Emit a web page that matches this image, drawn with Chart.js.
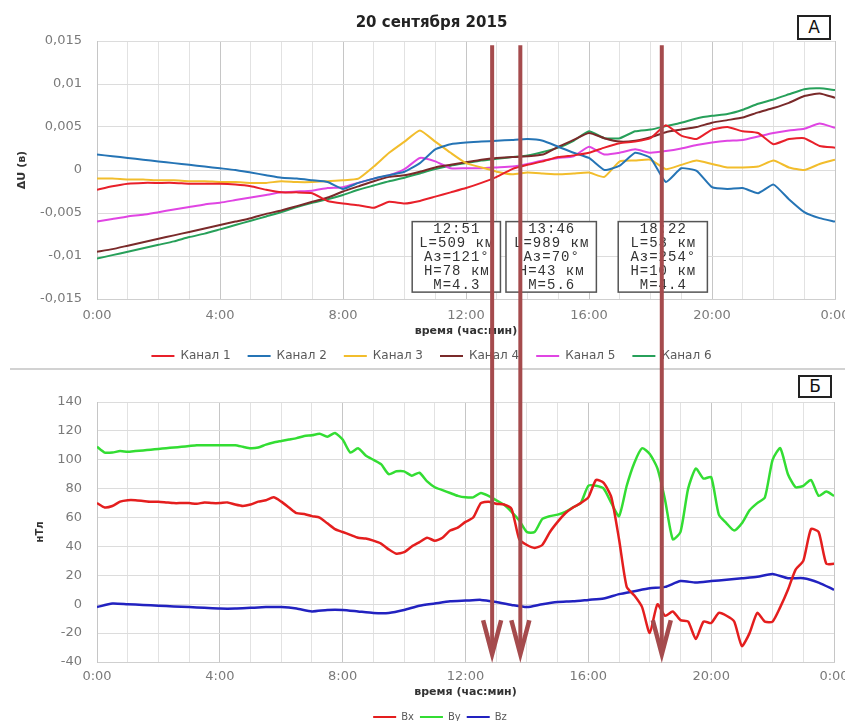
<!DOCTYPE html>
<html lang="ru">
<head>
<meta charset="utf-8">
<title>20 сентября 2015</title>
<script src="https://cdn.jsdelivr.net/npm/chart.js@4.4.1/dist/chart.umd.min.js"></script>
<style>
  html, body { margin: 0; padding: 0; background: #fff; overflow: hidden; }
  #page { position: relative; width: 845px; height: 721px; overflow: hidden; }
  #page canvas { position: absolute; left: 0; }
  #topChart { top: 0; }
  #bottomChart { top: 370px; }
  #arrows { top: 0; pointer-events: none; }
  .sep { position: absolute; left: 10px; top: 368px; width: 835px; height: 2px; background: #d2d2d2; }
  .tag { position: absolute; width: 30px; border: 2px solid #222; background: #fff;
         font: 17px "DejaVu Sans", sans-serif; color: #111; text-align: center; }
</style>
</head>
<body>
<div id="page">
  <canvas id="topChart" width="845" height="372"></canvas>
  <div class="sep"></div>
  <canvas id="bottomChart" width="845" height="362"></canvas>
  <canvas id="arrows" width="845" height="721"></canvas>
  <div class="tag" style="left:797px; top:15px; height:21px; line-height:21px;">А</div>
  <div class="tag" style="left:798px; top:375px; height:19px; line-height:19px;">Б</div>
</div>
<script>
// ---- time grids (hours) ----
const hoursTop = [0,0.5,1,1.5,2,2.5,3,3.5,4,4.5,5,5.5,6,6.5,7,7.5,8,8.5,9,9.5,10,10.5,11,11.5,12,
  12.5,13,13.5,14,14.5,15,15.5,16,16.5,17,17.5,18,18.5,19,19.5,20,20.5,21,21.5,22,22.5,23,23.5,24];
const hoursBottom = [0,0.25,0.5,0.75,1,1.25,1.5,1.75,2,2.25,2.5,2.75,3,3.25,3.5,3.75,4,4.25,4.5,4.75,
  5,5.25,5.5,5.75,6,6.25,6.5,6.75,7,7.25,7.5,7.75,8,8.25,8.5,8.75,9,9.25,9.5,9.75,
  10,10.25,10.5,10.75,11,11.25,11.5,11.75,12,12.25,12.5,12.75,13,13.25,13.5,13.75,14,14.25,14.5,14.75,
  15,15.25,15.5,15.75,16,16.25,16.5,16.75,17,17.25,17.5,17.75,18,18.25,18.5,18.75,19,19.25,19.5,19.75,
  20,20.25,20.5,20.75,21,21.25,21.5,21.75,22,22.25,22.5,22.75,23,23.25,23.5,23.75,24];

// ---- panel A: ΔU per channel, V ----
const channelNames = ['Канал 1', 'Канал 2', 'Канал 3', 'Канал 4', 'Канал 5', 'Канал 6'];
const channel1 = [-0.0023,-0.0019,-0.0016,-0.0015,-0.0015,-0.0015,-0.0016,-0.0016,-0.0016,-0.0017,
  -0.0019,-0.0023,-0.0026,-0.0026,-0.0027,-0.0036,-0.0039,-0.0041,-0.0044,-0.0037,
  -0.0039,-0.0036,-0.0031,-0.0026,-0.0021,-0.0015,-0.0008,0.0001,0.0006,0.0010,
  0.0015,0.0017,0.0020,0.0026,0.0031,0.0033,0.0037,0.0052,0.0040,0.0036,
  0.0047,0.0050,0.0045,0.0043,0.0030,0.0036,0.0037,0.0028,0.0026];
const channel2 = [0.0018,0.0016,0.0014,0.0012,0.0010,0.0008,0.0006,0.0004,0.0002,0.0000,
  -0.0003,-0.0006,-0.0009,-0.0010,-0.0012,-0.0014,-0.0022,-0.0015,-0.0010,-0.0006,
  -0.0002,0.0008,0.0024,0.0030,0.0032,0.0033,0.0034,0.0035,0.0036,0.0034,
  0.0027,0.0020,0.0014,0.0000,0.0005,0.0020,0.0014,-0.0014,0.0002,-0.0001,
  -0.0020,-0.0022,-0.0021,-0.0027,-0.0017,-0.0034,-0.0049,-0.0056,-0.0060];
const channel3 = [-0.0010,-0.0010,-0.0011,-0.0011,-0.0012,-0.0012,-0.0013,-0.0013,-0.0014,-0.0014,
  -0.0015,-0.0015,-0.0013,-0.0014,-0.0014,-0.0013,-0.0012,-0.0010,0.0004,0.0020,
  0.0033,0.0046,0.0033,0.0020,0.0008,0.0003,-0.0002,-0.0005,-0.0003,-0.0004,
  -0.0005,-0.0004,-0.0003,-0.0008,0.0010,0.0011,0.0012,0.0001,0.0006,0.0011,
  0.0007,0.0003,0.0003,0.0004,0.0011,0.0003,0.0000,0.0007,0.0012];
const channel4 = [-0.0095,-0.0092,-0.0088,-0.0084,-0.0080,-0.0076,-0.0072,-0.0068,-0.0064,-0.0060,
  -0.0056,-0.0051,-0.0047,-0.0042,-0.0037,-0.0032,-0.0025,-0.0019,-0.0013,-0.0008,
  -0.0006,-0.0002,0.0003,0.0006,0.0009,0.0012,0.0014,0.0015,0.0016,0.0018,
  0.0027,0.0035,0.0043,0.0037,0.0033,0.0034,0.0038,0.0044,0.0047,0.0050,
  0.0055,0.0058,0.0061,0.0067,0.0072,0.0078,0.0086,0.0089,0.0084];
const channel5 = [-0.0060,-0.0057,-0.0054,-0.0052,-0.0049,-0.0046,-0.0043,-0.0040,-0.0038,-0.0035,
  -0.0032,-0.0029,-0.0026,-0.0025,-0.0024,-0.0021,-0.0020,-0.0015,-0.0010,-0.0006,
  0.0001,0.0014,0.0010,0.0002,0.0002,0.0002,0.0003,0.0004,0.0007,0.0011,
  0.0014,0.0016,0.0027,0.0018,0.0020,0.0024,0.0020,0.0022,0.0025,0.0029,
  0.0032,0.0034,0.0035,0.0039,0.0043,0.0046,0.0048,0.0054,0.0049];
const channel6 = [-0.0103,-0.0099,-0.0095,-0.0091,-0.0087,-0.0083,-0.0078,-0.0074,-0.0069,-0.0064,
  -0.0059,-0.0054,-0.0049,-0.0043,-0.0038,-0.0034,-0.0029,-0.0023,-0.0018,-0.0013,
  -0.0009,-0.0004,0.0001,0.0005,0.0008,0.0011,0.0013,0.0015,0.0017,0.0021,
  0.0026,0.0034,0.0045,0.0037,0.0037,0.0045,0.0047,0.0051,0.0055,0.0060,
  0.0063,0.0065,0.0070,0.0077,0.0082,0.0088,0.0094,0.0095,0.0093];
const channelColors = ['#e8202a', '#2574b5', '#f2bd2c', '#7a2a2a', '#e045e3', '#27a05a'];

// ---- panel Б: magnetic field components, nT ----
const fieldNames = ['Bx', 'By', 'Bz'];
const bx = [70,67,68,71,72,72,71.5,71,71,70.5,70,70,70,69.5,70.5,70,70,70.5,69,68,
  69,71,72,74,71,67,63,62.5,61,60,56,52,50,48,46,45.5,44,42,38,35,
  36,40,43,46,44,46,51,53,57,60,70,71,69.5,69,66,45,41,39,41,50,
  57,63,67,70,74,86,84,74,45,12,6,-2,-20,0,-8,-5,-11,-12,-24,-12,
  -13,-6,-8,-12,-29,-20,-6,-12,-12,-2,10,24,30,52,50,28,28];
const by = [109,105,105,106,105.5,106,106.5,107,107.5,108,108.5,109,109.5,110,110,110,110,110,110,109,
  108,108.5,110.5,112,113,114,115,116.5,117,118,116,118.5,114,105,108,103,100,97,90,92,
  92,89,91,85,81,79,77,75,74,74,77,75,72,69,64,58,50,50,59,61,
  62,64,67,70,82,82,80,70,61,82,98,108,104,94,72,45,50,80,94,87,
  88,62,56,51,56,65,70,74,100,108,90,81,82,86,75,78,75];
const bz = [-2,0.5,0,-0.5,-1,-1.5,-2,-2.5,-3,-3,-2.5,-2,-2,-3,-5,-4,-4,-5,-6,-6,
  -4,-1,0.5,2,2.5,3,1.5,-0.5,-2,0,1.5,2,3,4,7,9,11,12,16,15,
  16,17,18,19,21,18,18,15,10];
const fieldColors = ['#e41e1e', '#33dd33', '#2222c0'];

// ---- events ----
const eventHours = [12.85, 13.767, 18.367];
const eventNotes = [
  ['12:51', 'L=509 км', 'Аз=121°', 'H=78 км', 'M=4.3'],
  ['13:46', 'L=989 км', 'Аз=70°', 'H=43 км', 'M=5.6'],
  ['18:22', 'L=53 км', 'Аз=254°', 'H=10 км', 'M=4.4']
];

Chart.defaults.font.family = '"DejaVu Sans", sans-serif';

const pts = (xs, ys) => ys.map((v, i) => ({ x: xs[i], y: v }));

// legend shows a thin line instead of a box
const lineLegend = chart => Chart.defaults.plugins.legend.labels.generateLabels(chart)
  .map(l => Object.assign(l, { lineWidth: 0 }));

const hourTick = v => (v % 4 === 0 ? (v % 24) + ':00' : '');
const hourGrid = c => (c.tick && c.tick.value % 4 === 0 ? '#c6c6c6' : '#e2e2e2');

// fixed axis band; the edge labels may run past the plot, no extra margins for them
const fixHeight = h => s => { s.height = h; s.paddingLeft = 0; s.paddingRight = 0; };

// framed event descriptions below the traces of panel A
const boxSpans = [[10.25, 13.12], [13.30, 16.24], [16.95, 19.85]];
const eventBoxes = {
  id: 'eventBoxes',
  afterDatasetsDraw(chart) {
    const { ctx, scales: { x, y } } = chart;
    ctx.save();
    eventNotes.forEach((lines, i) => {
      const left = x.getPixelForValue(boxSpans[i][0]);
      const right = x.getPixelForValue(boxSpans[i][1]);
      const top = y.getPixelForValue(-0.006);
      const bottom = y.getPixelForValue(-0.0142);
      ctx.fillStyle = '#fff';
      ctx.fillRect(left, top, right - left, bottom - top);
      ctx.strokeStyle = '#555';
      ctx.lineWidth = 1.5;
      ctx.strokeRect(left, top, right - left, bottom - top);
      ctx.fillStyle = '#333';
      ctx.font = '14px "Liberation Mono", monospace';
      ctx.letterSpacing = '1px';
      ctx.textAlign = 'center';
      ctx.textBaseline = 'middle';
      lines.forEach((t, k) => ctx.fillText(t, (left + right) / 2 + 0.5, top + 8 + k * 14));
    });
    ctx.restore();
  }
};

const topChart = new Chart(document.getElementById('topChart'), {
  type: 'line',
  data: {
    datasets: [channel1, channel2, channel3, channel4, channel5, channel6].map((s, i) => ({
      label: channelNames[i],
      data: pts(hoursTop, s),
      borderColor: channelColors[i],
      backgroundColor: channelColors[i],
      borderWidth: 2
    }))
  },
  options: {
    responsive: false,
    animation: false,
    layout: { padding: { left: 28, right: 10, top: 0, bottom: 0 }, autoPadding: false },
    elements: { point: { radius: 0 }, line: { tension: 0.15 } },
    plugins: {
      title: {
        display: true, text: '20 сентября 2015', color: '#222',
        font: { size: 15, weight: 'bold' }, padding: { top: 14, bottom: 9 }
      },
      legend: {
        position: 'bottom',
        labels: { boxWidth: 23, boxHeight: 2, padding: 17, color: '#595959', font: { size: 12 }, generateLabels: lineLegend }
      },
      tooltip: { enabled: false }
    },
    scales: {
      x: {
        type: 'linear', min: 0, max: 24,
        ticks: { stepSize: 1, autoSkip: false, maxRotation: 0, padding: 9, color: '#7a7a7a', font: { size: 13 }, callback: hourTick },
        grid: { color: hourGrid, drawTicks: false },
        border: { color: '#cfcfcf' },
        title: { display: true, text: 'время (час:мин)', color: '#333', font: { size: 11, weight: 'bold' }, padding: { top: 0, bottom: -4.6 } },
        afterFit: fixHeight(34)
      },
      y: {
        min: -0.015, max: 0.015,
        ticks: {
          stepSize: 0.005, padding: 15, color: '#7a7a7a', font: { size: 13 },
          callback: v => String(Math.round(v * 1000) / 1000).replace('.', ',')
        },
        grid: { color: '#dcdcdc', drawTicks: false },
        border: { color: '#c6c6c6' },
        title: { display: true, text: 'ΔU (в)', color: '#333', font: { size: 11, weight: 'bold' }, padding: { top: -12.6, bottom: 0 } },
        afterFit: s => { s.width = 97 - 28; }
      }
    }
  },
  plugins: [eventBoxes]
});

const bottomChart = new Chart(document.getElementById('bottomChart'), {
  type: 'line',
  data: {
    datasets: [
      { label: fieldNames[0], data: pts(hoursBottom, bx) },
      { label: fieldNames[1], data: pts(hoursBottom, by) },
      { label: fieldNames[2], data: pts(hoursTop, bz) }
    ].map((d, i) => Object.assign(d, { borderColor: fieldColors[i], backgroundColor: fieldColors[i], borderWidth: 2.5 }))
  },
  options: {
    responsive: false,
    animation: false,
    layout: { padding: { left: 46, right: 11, top: 32, bottom: 0 }, autoPadding: false },
    elements: { point: { radius: 0 }, line: { tension: 0.2 } },
    plugins: {
      legend: {
        position: 'bottom',
        labels: { boxWidth: 23, boxHeight: 2, padding: 6, color: '#595959', font: { size: 10 }, generateLabels: lineLegend }
      },
      tooltip: { enabled: false }
    },
    scales: {
      x: {
        type: 'linear', min: 0, max: 24,
        ticks: { stepSize: 1, autoSkip: false, maxRotation: 0, padding: 7, color: '#7a7a7a', font: { size: 13 }, callback: hourTick },
        grid: { color: hourGrid, drawTicks: false },
        border: { color: '#cfcfcf' },
        title: { display: true, text: 'время (час:мин)', color: '#333', font: { size: 11, weight: 'bold' }, padding: { top: 0, bottom: 7.4 } },
        afterFit: fixHeight(44)
      },
      y: {
        min: -40, max: 140,
        ticks: { stepSize: 20, padding: 15, color: '#7a7a7a', font: { size: 13 } },
        grid: { color: '#dcdcdc', drawTicks: false },
        border: { color: '#c6c6c6' },
        title: { display: true, text: 'нТл', color: '#333', font: { size: 10, weight: 'bold' }, padding: { top: -12, bottom: 0 } },
        afterFit: s => { s.width = 97 - 46; }
      }
    }
  }
});

// event arrows run through both panels
(function drawArrows() {
  const canvas = document.getElementById('arrows');
  const ctx = canvas.getContext('2d');
  const offsetB = document.getElementById('bottomChart').offsetTop;
  const xs = topChart.scales.x;
  ctx.strokeStyle = '#a54b4d';
  ctx.lineWidth = 4;
  ctx.lineCap = 'butt';
  ctx.lineJoin = 'miter';
  eventHours.forEach(h => {
    const px = xs.getPixelForValue(h);
    const y0 = topChart.scales.y.getPixelForValue(0.0145);
    const y1 = offsetB + bottomChart.scales.y.getPixelForValue(-36);
    ctx.beginPath();
    ctx.moveTo(px, y0);
    ctx.lineTo(px, y1 - 4);
    ctx.stroke();
    ctx.lineWidth = 4.5;
    ctx.beginPath();
    ctx.moveTo(px - 9, y1 - 36);
    ctx.lineTo(px, y1 - 2);
    ctx.lineTo(px + 9, y1 - 36);
    ctx.stroke();
    ctx.lineWidth = 4;
  });
})();
</script>
</body>
</html>
